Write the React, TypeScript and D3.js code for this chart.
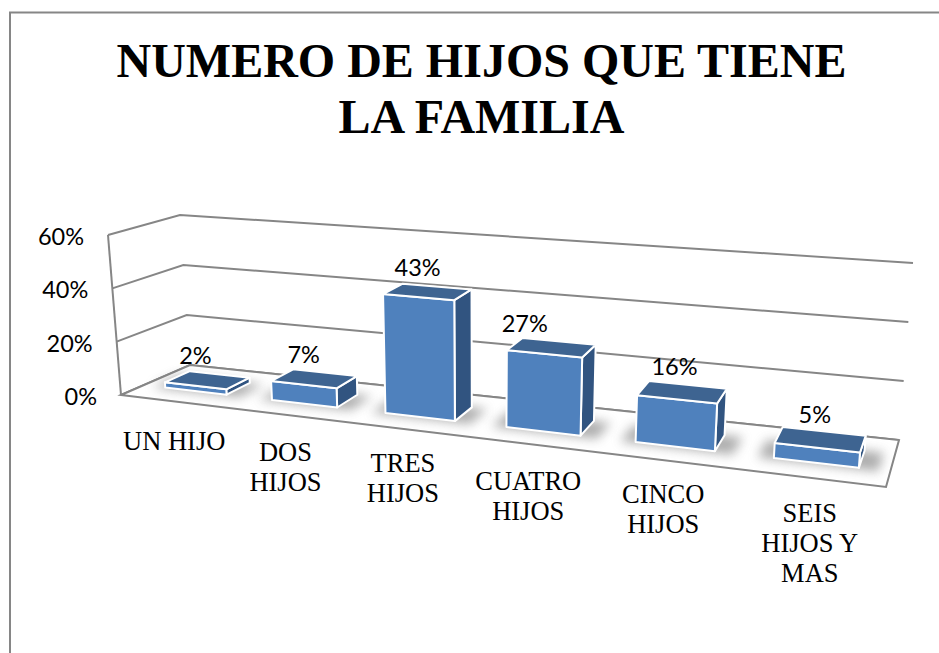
import React from "react";
import * as d3 from "d3";

const categories = ["UN HIJO", "DOS HIJOS", "TRES HIJOS", "CUATRO HIJOS", "CINCO HIJOS", "SEIS HIJOS Y MAS"];
const categoryLines = [["UN HIJO"], ["DOS", "HIJOS"], ["TRES", "HIJOS"], ["CUATRO", "HIJOS"], ["CINCO", "HIJOS"], ["SEIS", "HIJOS Y", "MAS"]];
const values = [0.02, 0.07, 0.43, 0.27, 0.16, 0.05];
const valueLabels = ["2%", "7%", "43%", "27%", "16%", "5%"];
const axisTicks = [0, 0.2, 0.4, 0.6];
const titleLines = ["NUMERO DE HIJOS QUE TIENE", "LA FAMILIA"];

type Pt = [number, number];
// floor corners and the screen vector of a 60% rise at each: front-left, front-right, back-right, back-left
const floorQuad: Pt[] = [[121, 395], [886, 487], [899, 440], [190, 365]];
const riseQuad: Pt[] = [[-13, -160], [15, -190], [14, -177], [-10, -150]];
const PERSPECTIVE = 0.217;
const warp = (u: number) => u / (1 + PERSPECTIVE * (1 - u));

function bilinear(q: Pt[], s: number, v: number): Pt {
  const lerp = (a: number, b: number, t: number) => a + (b - a) * t;
  return [0, 1].map(k =>
    lerp(lerp(q[0][k], q[1][k], s), lerp(q[3][k], q[2][k], s), v)
  ) as Pt;
}
const rise = d3.scaleLinear().domain([0, 0.6]).range([0, 1]);
function P(u: number, v: number, val: number): Pt {
  const s = warp(u);
  const b = bilinear(floorQuad, s, v);
  const r = bilinear(riseQuad, s, v);
  const t = rise(val);
  return [b[0] + r[0] * t, b[1] + r[1] * t];
}
const band = d3.scaleBand<string>().domain(categories).range([0, 1]).paddingInner(0.418).paddingOuter(0.209);
const V0 = 0.33, V1 = 0.7;

const poly = (pts: Pt[]) => d3.line()(pts)! + "Z";
const FRONT = "#4f81bd", TOP = "#3e6491", SIDE = "#315480", GRID = "#868686";
const LABEL_FONT = "Lato, 'Open Sans', sans-serif";
const SERIF = "'Liberation Serif', serif";

const valueNudgeX = [-24, -21, -19, -34, -13, -9];
const valueNudgeY = [-10, -10, -11, -9, -10, -8];
const catNudgeX = [0, 0, -1, -2, -2, 0];
const catNudgeY = [4, 1, -2, 1, -2, -1];

export default function App() {
  return (
    <svg width={939} height={653} style={{ position: "absolute", left: 0, top: 0, display: "block" }} viewBox="0 0 939 653">
      <defs>
        <filter id="sh" x="-30%" y="-80%" width="160%" height="260%">
          <feGaussianBlur stdDeviation="5.5" />
        </filter>
      </defs>
      <rect width={939} height={653} fill="#fff" />
      <path d="M10,653V12.5H939" fill="none" stroke={GRID} strokeWidth={2} />
      {titleLines.map((t, i) => (
        <text key={t} x={481.5} y={77 + i * 56} textAnchor="middle" fontFamily={SERIF} fontWeight={700} fontSize={48} fill="#000">{t}</text>
      ))}
      {axisTicks.map(t => (
        <path key={t} d={d3.line()([P(0, 0, t), P(0, 1, t), P(1, 1, t)])!} fill="none" stroke={GRID} strokeWidth={2} />
      ))}
      <path d={poly([P(0, 0, 0), P(1, 0, 0), P(1, 1, 0), P(0, 1, 0)])} fill="#fff" stroke={GRID} strokeWidth={2} />
      <path d={d3.line()([P(0, 0, 0), P(0, 0, 0.6)])!} fill="none" stroke={GRID} strokeWidth={2} />
      {axisTicks.map(t => {
        const [x, y] = P(0, 0, t);
        return <text key={t} x={x - 24} y={y + 10} textAnchor="end" fontFamily={LABEL_FONT} fontSize={23.5} fill="#000">{d3.format(".0%")(t)}</text>;
      })}
      {categories.map(c => {
        const u0 = band(c)!, u1 = u0 + band.bandwidth();
        const shadow = [P(u0 - 0.018, V0 - 0.03, 0), P(u1 + 0.022, V0 - 0.03, 0), P(u1 + 0.022, V1, 0), P(u0 - 0.018, V1, 0)];
        return <path key={"s" + c} d={poly(shadow)} fill="#777" filter="url(#sh)" opacity={0.6} />;
      })}
      {categories.map((c, i) => {
        const u0 = band(c)!, u1 = u0 + band.bandwidth();
        const val = values[i];
        const front = [P(u0, V0, 0), P(u1, V0, 0), P(u1, V0, val), P(u0, V0, val)];
        const side = [P(u1, V0, 0), P(u1, V1, 0), P(u1, V1, val), P(u1, V0, val)];
        const top = [P(u0, V0, val), P(u1, V0, val), P(u1, V1, val), P(u0, V1, val)];
        return (
          <g key={c} stroke="#fff" strokeWidth={2} strokeLinejoin="round">
            <path d={poly(side)} fill={SIDE} />
            <path d={poly(front)} fill={FRONT} />
            <path d={poly(top)} fill={TOP} />
          </g>
        );
      })}
      {categories.map((c, i) => {
        const u0 = band(c)!, u1 = u0 + band.bandwidth();
        const [x, y] = P((u0 + u1) / 2, V1, values[i]);
        return <text key={c} x={x + valueNudgeX[i]} y={y + valueNudgeY[i]} textAnchor="middle" fontFamily={LABEL_FONT} fontSize={23.5} fill="#000">{valueLabels[i]}</text>;
      })}
      {categories.map((c, i) => {
        const u0 = band(c)!, u1 = u0 + band.bandwidth();
        const [x, y] = P((u0 + u1) / 2, 0, 0);
        return categoryLines[i].map((l, j) => (
          <text key={l} x={x + catNudgeX[i]} y={y + 45 + catNudgeY[i] + j * 30} textAnchor="middle" fontFamily={SERIF} fontSize={26.5} fill="#000">{l}</text>
        ));
      })}
    </svg>
  );
}
